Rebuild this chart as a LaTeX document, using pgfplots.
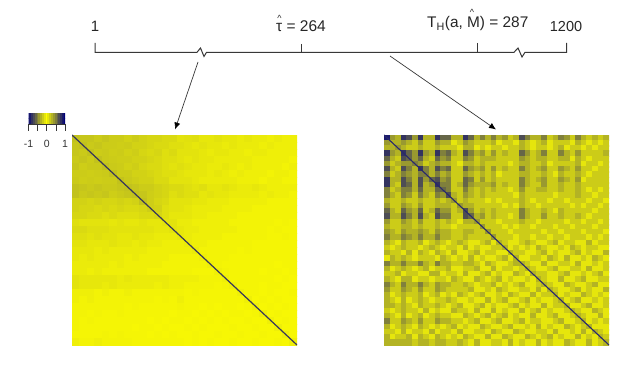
\documentclass[border=0pt]{standalone}
\usepackage{pgfplots}
\usepackage{pgfplotstable}
\usepackage{fontspec}
\setmainfont{Liberation Sans}
\usetikzlibrary{arrows.meta}
\pgfplotsset{compat=1.18}
\pgfplotsset{colormap={ny}{rgb255(0)=(0,0,120); rgb255(1)=(255,255,0); rgb255(2)=(0,0,120)}}
% left matrix, absolute correlation in percent
\pgfplotstableread[header=false]{
30 28 28 25 28 25 25 22 25 22  20 20 18 18 14 15 16 12 12 14  12 12 10 12 10 10 8 10 8 8
28 30 26 28 25 25 24 25 22 22  20 18 18 16 16 14 12 14 12 12  10 12 10 10 10 8 10 8 8 8
28 26 30 25 26 24 25 22 24 20  18 20 16 18 14 14 14 12 10 12  12 10 10 8 10 10 8 8 8 8
26 28 25 30 26 25 24 24 22 22  20 18 16 16 14 12 14 12 12 10  10 10 10 10 8 8 8 8 8 6
28 24 26 26 30 26 25 22 24 20  18 18 16 14 16 14 12 12 10 10  12 10 8 10 8 8 8 8 6 8
25 25 24 25 26 30 25 25 22 22  20 18 16 16 14 12 12 12 10 12  10 8 10 8 8 8 6 8 8 6
26 24 25 24 25 25 30 26 24 22  22 18 18 14 14 14 12 10 10 10  10 10 8 8 8 6 8 8 6 6
30 28 26 28 26 26 28 30 28 25  25 22 20 18 18 16 14 16 12 12  14 12 10 10 12 10 8 8 8 8
30 26 28 26 28 24 26 28 30 28  24 22 20 16 18 16 16 12 14 12  12 10 10 10 10 8 10 8 8 6
22 22 20 22 20 20 22 20 22 30  24 20 18 14 14 14 12 12 10 10  10 8 8 8 8 8 6 6 6 6
22 20 20 18 20 18 20 18 18 20  24 22 16 14 14 12 10 10 10 10  8 8 8 8 6 6 6 6 6 6
20 20 18 18 16 18 16 16 16 18  18 20 16 12 12 12 10 10 8 8  8 8 6 6 6 6 6 6 6 6
16 14 14 14 14 12 14 12 12 14  12 12 14 14 10 10 8 8 8 8  8 6 6 6 6 6 6 5 6 5
18 18 16 16 16 14 14 14 14 14  14 12 12 14 12 10 10 8 8 8  8 8 6 6 6 6 5 6 5 5
16 16 14 16 14 14 12 12 14 12  12 10 10 10 12 10 8 8 8 8  6 6 6 6 6 6 5 5 6 5
14 14 12 12 12 14 12 12 10 12  10 10 8 8 8 10 8 8 6 6  6 6 6 6 5 5 5 5 5 5
12 12 12 10 12 10 10 10 10 10  8 8 8 8 8 8 10 6 6 6  6 6 5 6 5 5 5 5 5 5
12 10 12 10 10 10 10 8 10 8  8 8 8 6 6 6 6 8 6 6  6 5 5 5 5 5 5 5 5 5
10 10 10 10 10 8 10 8 8 8  8 8 6 6 6 6 6 6 8 6  5 5 5 5 5 5 5 4 5 5
10 10 8 10 8 8 8 8 8 8  6 6 6 6 6 6 5 5 5 8  6 5 5 5 5 4 5 5 4 5
14 12 12 12 12 12 10 12 10 10  10 10 10 8 8 8 8 6 6 6  8 5 5 5 5 5 5 4 5 4
14 12 12 12 10 12 10 10 10 10  10 8 10 8 8 6 6 6 6 5  6 8 5 5 5 4 5 5 4 4
8 8 8 6 8 6 6 8 6 6  6 6 6 6 6 5 6 5 5 5  5 5 8 5 5 4 5 4 4 5
8 6 8 6 6 6 6 6 6 6  6 5 6 5 8 5 5 5 5 5  5 5 5 8 4 5 4 5 4 4
6 6 6 6 6 6 6 5 6 5  5 5 5 5 6 5 5 4 5 4  5 5 4 5 8 4 5 4 5 4
6 6 5 6 5 5 6 5 5 5  5 5 5 4 5 5 4 5 4 5  4 5 5 4 5 8 4 5 4 4
6 5 6 5 5 5 5 5 5 5  4 5 4 5 5 4 5 4 5 4  5 4 4 5 4 4 8 4 5 4
6 5 5 5 5 5 5 5 4 5  5 4 5 4 4 5 4 5 4 4  4 5 4 4 5 4 4 8 4 4
5 5 5 5 6 5 6 5 5 5  4 5 4 5 4 4 5 4 4 5  4 4 5 4 4 5 4 4 8 4
8 6 6 8 6 6 6 6 5 5  5 5 5 5 5 4 5 4 5 4  4 5 4 4 5 4 4 5 4 8
}\lefttable
% right matrix, absolute correlation in tenths
\pgfplotstableread[header=false]{
9 4 3 8 7 4 8 3 3 8  6 6 3 3 8 6 3 5 3 5  3 4 2 3 7 5 3 3 5 2  3 5 4 2 5 3 2 3 2 3
4 3 3 4 3 2 4 2 2 4  3 3 1 2 4 3 2 2 2 3  1 2 2 1 3 2 1 2 3 1  2 2 2 1 3 2 1 2 1 2
3 3 4 3 2 2 3 2 2 3  2 2 2 1 3 3 1 2 1 2  2 1 2 2 3 2 1 2 2 1  2 3 1 2 2 1 2 1 2 2
8 4 3 8 6 4 8 4 3 8  5 6 3 2 7 5 3 4 2 4  2 3 2 2 6 4 2 3 5 2  2 5 3 2 4 2 2 2 2 3
6 3 2 7 6 4 6 3 2 6  4 5 2 2 5 4 2 3 3 3  2 2 2 2 4 3 2 3 3 2  2 3 3 1 3 2 1 2 2 2
4 2 3 4 4 5 4 2 3 4  3 3 2 1 3 3 2 3 2 2  2 2 1 2 3 3 2 2 3 1  2 2 2 2 3 1 2 2 1 2
7 3 2 7 5 3 8 5 3 7  5 6 2 2 6 4 3 4 2 4  2 3 2 2 5 3 2 3 4 2  2 4 3 2 4 2 2 1 2 2
5 2 3 5 4 3 5 5 3 5  3 4 2 2 4 3 2 3 2 3  1 2 2 2 3 3 2 2 3 2  1 3 2 2 3 2 1 2 2 2
8 3 3 7 5 3 7 4 6 7  4 5 2 2 6 5 2 4 2 3  2 2 2 2 5 3 2 3 4 2  2 4 3 2 4 1 2 2 2 2
8 3 2 7 6 3 7 3 4 8  5 5 2 3 6 4 3 3 3 4  2 3 2 2 5 3 2 2 4 2  2 3 2 2 3 2 2 2 2 2
5 2 3 5 5 3 6 3 3 6  6 5 2 2 5 3 2 3 2 3  2 2 1 2 4 2 2 3 3 2  2 3 2 2 3 2 1 2 1 2
5 3 2 5 4 2 5 3 2 5  4 7 3 2 4 3 2 3 2 2  2 2 2 1 3 2 2 2 2 2  1 2 2 2 3 2 2 1 2 2
3 2 2 3 2 2 3 2 2 3  2 3 4 2 3 2 2 2 1 2  1 2 2 2 3 2 1 2 2 1  2 2 1 2 2 2 1 2 2 1
4 2 2 4 3 2 4 2 2 3  3 3 2 4 3 3 2 2 2 2  2 1 2 1 3 2 2 1 2 2  2 2 2 1 2 1 2 2 1 2
6 3 2 6 4 3 6 2 3 6  4 4 2 3 7 4 2 3 2 3  2 2 2 2 5 3 2 2 3 2  1 3 2 2 2 2 2 1 2 2
7 3 3 7 5 3 7 3 2 7  5 5 2 2 7 6 3 4 2 3  2 2 1 2 5 3 2 2 4 2  2 3 2 2 3 2 1 2 2 2
4 2 2 4 3 2 4 2 2 3  2 3 2 1 3 3 4 2 2 2  1 2 2 2 3 2 2 1 2 2  2 2 1 2 2 1 2 2 1 2
3 2 2 3 3 2 3 2 2 3  2 2 1 2 2 2 2 4 2 2  2 1 2 1 2 2 1 2 2 2  1 2 2 1 2 2 2 1 2 2
4 3 2 4 3 3 4 3 2 4  3 3 2 2 3 3 2 2 4 2  2 2 1 2 2 2 2 2 1 2  2 1 2 2 2 1 2 2 2 1
5 3 3 5 4 3 5 3 3 5  3 3 2 2 3 2 2 2 2 4  2 2 2 1 2 2 1 2 2 1  2 2 1 2 2 2 1 2 1 2
3 2 1 3 2 2 3 1 2 3  2 1 2 3 2 1 1 2 3 1  3 2 1 1 2 3 2 1 1 2  3 1 2 2 1 1 3 1 2 2
2 1 2 3 2 2 1 2 3 2  1 2 2 1 3 1 2 1 1 2  2 3 1 2 1 2 1 3 2 1  1 2 1 3 2 1 2 2 1 1
3 2 2 1 3 1 3 2 1 3  2 1 3 1 1 2 3 1 2 2  1 1 3 2 2 1 1 2 3 1  2 1 1 2 3 1 2 1 1 3
1 3 2 3 2 1 2 2 2 1  3 2 1 2 1 3 1 2 1 1  2 3 1 3 1 1 2 2 1 3  2 1 3 1 1 2 1 3 2 1
5 3 3 5 3 3 5 3 2 5  3 3 2 2 3 3 2 1 3 2  1 1 2 3 3 2 1 1 3 1  1 2 2 1 3 1 1 2 1 2
3 1 2 3 2 1 2 3 1 2  2 3 1 1 2 2 3 1 1 3  1 2 2 1 2 3 2 1 1 2  3 1 1 2 2 1 3 1 1 2
2 2 3 1 2 2 1 1 3 3  1 2 2 1 3 1 1 2 3 1  2 1 1 3 2 1 3 2 2 1  1 2 3 1 1 2 1 2 3 1
3 2 1 3 3 1 2 2 1 2  2 1 3 2 1 1 3 2 1 2  3 1 2 1 1 2 1 3 2 1  1 3 1 1 2 3 1 1 2 2
5 3 2 5 3 3 5 3 2 4  3 3 2 2 3 2 1 2 2 3  1 2 1 2 3 1 1 2 3 2  1 1 3 2 1 1 2 3 1 1
4 2 2 4 3 2 4 2 2 4  3 2 2 2 2 3 1 1 2 1  3 2 1 1 2 2 1 3 1 3  2 1 1 2 3 1 2 1 1 3
3 1 2 3 2 2 3 1 2 3  1 2 1 3 2 1 2 3 1 1  2 1 3 2 1 1 3 1 2 2  3 1 2 1 1 3 2 1 2 1
3 2 1 3 1 2 3 2 1 2  2 3 2 1 1 2 1 1 3 1  2 3 1 1 2 3 1 2 1 1  2 3 1 2 3 1 1 2 1 2
3 3 2 3 2 1 3 2 2 3  2 1 2 3 1 1 2 3 1 2  1 1 2 3 1 2 1 1 3 1  2 2 3 1 1 2 3 1 1 2
2 1 2 3 2 2 1 3 1 2  1 1 3 2 2 1 3 1 1 3  1 2 1 1 3 1 2 3 1 2  1 1 2 3 2 1 1 3 2 1
3 2 1 3 1 2 3 1 2 3  2 2 1 1 3 2 1 2 3 1  2 3 1 2 1 1 3 1 1 2  3 1 1 2 3 2 1 1 3 1
5 2 2 4 3 2 4 2 2 4  3 3 2 2 1 2 3 1 1 2  3 1 1 2 3 1 2 2 1 1  2 3 1 1 2 3 1 2 1 2
3 1 2 3 2 1 3 2 1 2  1 2 3 1 2 1 1 3 2 1  1 2 3 1 1 2 1 3 1 2  1 1 3 2 1 2 3 1 1 1
2 2 1 3 1 2 2 1 3 1  2 2 1 3 1 1 2 2 1 3  2 1 1 3 2 1 1 2 2 1  3 1 1 2 1 3 1 3 2 1
3 1 2 2 3 1 3 2 1 3  2 1 2 1 3 2 1 1 3 1  1 3 2 1 1 3 2 1 2 3  1 2 1 1 3 1 2 1 3 2
3 3 3 3 3 2 3 3 2 3  3 2 2 3 2 1 3 1 1 2  2 1 3 1 2 1 1 3 1 2  1 1 3 2 1 1 3 1 2 3
}\righttable
\definecolor{ink}{gray}{0.22}
\pgfplotsset{
  heat/.style={scale only axis, width=225pt, height=210pt, anchor=south west,
    hide axis, y dir=reverse, colormap name=ny, point meta min=-1, point meta max=1,
    clip marker paths=true},
  cell/.style={scatter, only marks, mark=square*, forget plot,
    scatter src=explicit, mark size=#1,
    scatter/use mapped color={draw=mapped color, fill=mapped color},
    mark options={line width=0.05pt}},
  rule/.style={ink, line width=1pt, no marks, sharp plot, forget plot},
}
\begin{document}
\begin{tikzpicture}[x=1pt,y=1pt]
\useasboundingbox (0,0) rectangle (623,374);
\begin{axis}[name=over, at={(0pt,0pt)}, anchor=south west, scale only axis,
  width=623pt, height=374pt, xmin=0, xmax=623, ymin=0, ymax=374, y dir=reverse,
  hide axis, clip=false]
\addplot[rule] coordinates {(95,43) (95,52.3) (197,52.3) (200.5,48) (204,56.5) (206.5,52.3) (514,52.3) (518,48) (522,57) (525,52.3) (566.7,52.3) (566.7,43)};
\addplot[rule] coordinates {(301,44) (301,52.3)};
\addplot[rule] coordinates {(477.7,43) (477.7,52.3)};
\addplot[ink, line width=0.7pt, no marks, forget plot, -{Latex[length=7pt,width=6pt,black]}] coordinates {(198,62) (175,129.5)};
\addplot[ink, line width=0.7pt, no marks, forget plot, -{Latex[length=7pt,width=6pt,black]}] coordinates {(390,56) (496,129.5)};
\node[anchor=base, font=\fontsize{15}{17}\selectfont, text=black!85] at (axis cs:95,32) {1};
\node[anchor=base west, inner sep=0pt, font=\fontsize{15.5}{17}\selectfont, text=black!85] at (axis cs:276,32) {τ = 264};
\node[anchor=base, inner sep=0pt, font=\fontsize{9}{9}\selectfont, text=black!85] at (axis cs:279.5,22) {\^{}};
\node[anchor=base west, inner sep=0pt, font=\fontsize{15.4}{17}\selectfont, text=black!85] at (axis cs:427,28) {T\textsubscript{H}(a, M) = 287};
\node[anchor=base, inner sep=0pt, font=\fontsize{9}{9}\selectfont, text=black!85] at (axis cs:472,16) {\^{}};
\node[anchor=base, inner sep=0pt, font=\fontsize{14.5}{17}\selectfont, text=black!85] at (axis cs:566,32) {1200};
\end{axis}
\begin{axis}[heat, at={(72pt,29pt)}, xmin=0, xmax=30, ymin=0, ymax=30]
\pgfplotsinvokeforeach{0,...,29}{
  \addplot[cell=3.8pt] table[x expr=#1+0.5, y expr=\coordindex+0.5, meta expr=\thisrowno{#1}/125] {\lefttable};
}
\addplot[color={rgb,255:red,55;green,55;blue,90}, line width=1.2pt, no marks, forget plot] coordinates {(0,0) (30,30)};
\end{axis}
\begin{axis}[heat, at={(384pt,29pt)}, xmin=0, xmax=40, ymin=0, ymax=40]
\pgfplotsinvokeforeach{0,...,39}{
  \addplot[cell=2.9pt] table[x expr=#1+0.5, y expr=\coordindex+0.5, meta expr=\thisrowno{#1}/10] {\righttable};
}
\addplot[color={rgb,255:red,40;green,40;blue,110}, line width=1.1pt, no marks, forget plot] coordinates {(0,0) (40,40)};
\end{axis}
\begin{axis}[scale only axis, width=36.5pt, height=10.5pt, at={(28.5pt,250pt)}, anchor=south west,
  xmin=-1, xmax=1, ymin=0, ymax=1, colormap name=ny, point meta min=-1, point meta max=1,
  axis x line=bottom, axis y line=none, axis line style={-, ink, line width=0.6pt},
  xtick={-1,-0.5,0,0.5,1}, xticklabels={-1,,0,,1},
  tick align=outside, major tick length=7pt, tick style={ink, line width=0.6pt},
  xticklabel style={font=\fontsize{10.5}{12}\selectfont, text=black!80, inner sep=0pt},
  tick label style={yshift=-9pt}]
\addplot[matrix plot*, mesh/cols=21, point meta=x, forget plot] table {
-1 0
-0.9 0
-0.8 0
-0.7 0
-0.6 0
-0.5 0
-0.4 0
-0.3 0
-0.2 0
-0.1 0
0 0
0.1 0
0.2 0
0.3 0
0.4 0
0.5 0
0.6 0
0.7 0
0.8 0
0.9 0
1 0
-1 1
-0.9 1
-0.8 1
-0.7 1
-0.6 1
-0.5 1
-0.4 1
-0.3 1
-0.2 1
-0.1 1
0 1
0.1 1
0.2 1
0.3 1
0.4 1
0.5 1
0.6 1
0.7 1
0.8 1
0.9 1
1 1
};
\end{axis}
\end{tikzpicture}
\end{document}
